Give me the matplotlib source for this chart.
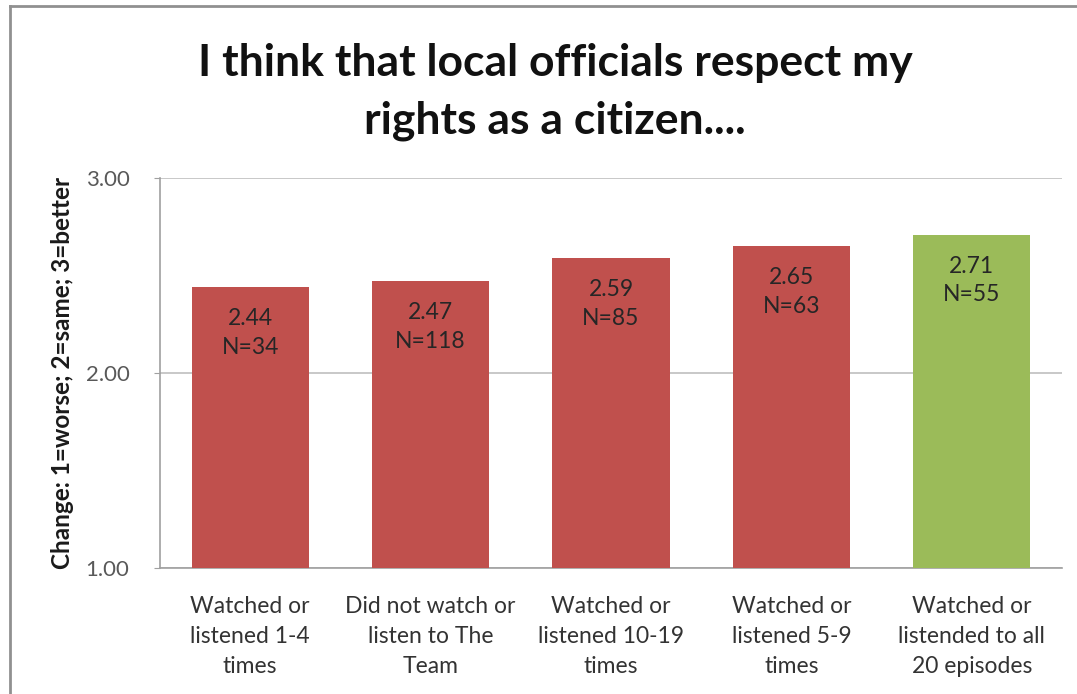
import matplotlib.pyplot as plt
from matplotlib.lines import Line2D

categories = ["Watched or\nlistened 1-4\ntimes",
              "Did not watch or\nlisten to The\nTeam",
              "Watched or\nlistened 10-19\ntimes",
              "Watched or\nlistened 5-9\ntimes",
              "Watched or\nlistended to all\n20 episodes"]
means = [2.44, 2.47, 2.59, 2.65, 2.71]
counts = [34, 118, 85, 63, 55]
colors = ["#C0504D", "#C0504D", "#C0504D", "#C0504D", "#9BBB59"]
yticks = [1.00, 2.00, 3.00]

plt.rcParams['font.family'] = ['Lato', 'DejaVu Sans']

fig = plt.figure(figsize=(10.77, 6.94), dpi=100)
ax = fig.add_axes([160/1077, 1-568/694, 902/1077, 390/694])

x = range(len(means))
bars = ax.bar(x, means, width=0.65, color=colors, zorder=3)
ax.set_ylim(1, 3)
ax.set_xlim(-0.5, len(means) - 0.5)
ax.set_yticks(yticks)
ax.set_yticklabels(["%.2f" % t for t in yticks], fontsize=16, color="#595959")
ax.set_xticks(list(x))
ax.set_xticklabels(categories, fontsize=16.5, color="#333333", linespacing=1.55)
ax.tick_params(axis='x', length=0, pad=20)
ax.tick_params(axis='y', length=4, color="#A0A0A0", pad=18)
ax.yaxis.grid(True, color="#BFBFBF", linewidth=1.2, zorder=0)
for s in ['top', 'right']:
    ax.spines[s].set_visible(False)
for s in ['left', 'bottom']:
    ax.spines[s].set_color("#A0A0A0")
    ax.spines[s].set_linewidth(1.2)

for b, m, n in zip(bars, means, counts):
    ax.text(b.get_x() + b.get_width()/2, m - 0.235, "%.2f\nN=%d" % (m, n),
            ha='center', va='center', fontsize=16.5, color="#262626",
            linespacing=1.45, zorder=4)

ax.set_ylabel("Change: 1=worse; 2=same; 3=better", fontsize=17.5,
              fontweight='bold', color="#1a1a1a", labelpad=8)

fig.text(555/1077, 1-92/694, "I think that local officials respect my\nrights as a citizen....",
         ha='center', va='center', fontsize=32, fontweight='bold',
         color="#111111", linespacing=1.55)

# outer chart frame
fig.add_artist(Line2D([10/1077, 1], [1-6/694, 1-6/694], color="#909090", linewidth=2))
fig.add_artist(Line2D([10/1077, 10/1077], [0, 1-6/694], color="#909090", linewidth=2))

fig.savefig("out.png", dpi=100)
